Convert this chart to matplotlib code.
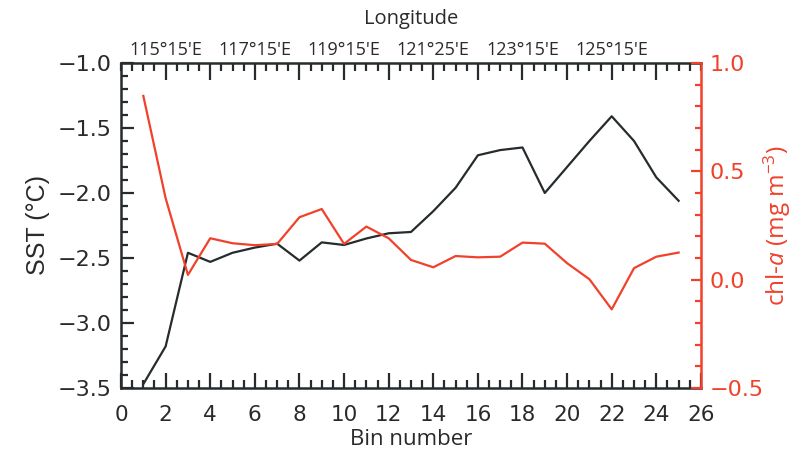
import numpy as np
import matplotlib.pyplot as plt
from matplotlib.ticker import MultipleLocator, FixedLocator, FixedFormatter

# SST and chl-a anomalies per longitude bin
bins = np.arange(1, 26)
sst = [-3.47, -3.18, -2.46, -2.53, -2.46, -2.42, -2.39, -2.52, -2.38, -2.40,
       -2.35, -2.31, -2.30, -2.14, -1.96, -1.71, -1.67, -1.65, -2.00, -1.80,
       -1.60, -1.41, -1.60, -1.88, -2.06]
chla = [0.848, 0.376, 0.022, 0.191, 0.168, 0.159, 0.165, 0.288, 0.326, 0.165,
        0.245, 0.191, 0.091, 0.057, 0.109, 0.103, 0.106, 0.171, 0.166, 0.076,
        0.002, -0.137, 0.053, 0.106, 0.125]

lon_ticks = [2, 4, 6, 8, 10, 12, 14, 16, 18, 20, 22, 24]
lon_labels = ["115°15'E", "", "117°15'E", "", "119°15'E", "", "121°25'E", "",
              "123°15'E", "", "125°15'E", ""]

black = '#262b2e'
red = '#f0412b'
num_font = 'DejaVu Sans'
lab_font = 'Open Sans'

plt.rcParams['mathtext.fontset'] = 'custom'
plt.rcParams['mathtext.rm'] = 'Open Sans'
plt.rcParams['mathtext.it'] = 'Open Sans:italic'

fig = plt.figure(figsize=(7.92, 4.53), dpi=100)
ax = fig.add_axes([0.1528, 0.1435, 0.7322, 0.7175])

ax.plot(bins, sst, color=black, lw=1.6)
ax.set_xlim(0, 26)
ax.set_ylim(-3.5, -1.0)
ax.xaxis.set_major_locator(MultipleLocator(2))
ax.xaxis.set_minor_locator(MultipleLocator(0.5))
ax.yaxis.set_major_locator(MultipleLocator(0.5))
ax.yaxis.set_minor_locator(MultipleLocator(0.1))
ax.tick_params(axis='x', which='major', direction='in', length=11, width=1.6,
               color=black, pad=12, labelsize=15.5, labelcolor='#2a2a2a')
ax.tick_params(axis='x', which='minor', direction='in', length=5.5, width=1.6,
               color=black)
ax.tick_params(axis='y', which='major', direction='in', length=9, width=1.6,
               color=black, pad=7, labelsize=16, labelcolor='#2a2a2a')
ax.tick_params(axis='y', which='minor', direction='in', length=5, width=1.6,
               color=black)
for lab in ax.get_xticklabels() + ax.get_yticklabels():
    lab.set_fontfamily(num_font)
for s in ['left', 'bottom', 'top']:
    ax.spines[s].set_color(black)
    ax.spines[s].set_linewidth(1.8)
ax.spines['right'].set_visible(False)
ax.set_xlabel('Bin number', fontsize=16, family=lab_font, color='#2a2a2a',
              labelpad=3)
ax.set_ylabel('SST (°C)', fontsize=18, family='Liberation Sans',
              color='#2a2a2a', labelpad=5)

# chl-a on the right axis
axr = ax.twinx()
axr.plot(bins, chla, color=red, lw=1.6)
axr.set_ylim(-0.5, 1.0)
axr.yaxis.set_major_locator(MultipleLocator(0.5))
axr.yaxis.set_minor_locator(MultipleLocator(0.1))
axr.tick_params(axis='y', which='major', direction='in', length=7, width=1.6,
                color=red, pad=6, labelsize=16, labelcolor=red)
axr.tick_params(axis='y', which='minor', direction='in', length=4, width=1.6,
                color=red)
for lab in axr.get_yticklabels():
    lab.set_fontfamily(num_font)
for s in ['left', 'bottom', 'top']:
    axr.spines[s].set_visible(False)
axr.spines['right'].set_color(red)
axr.spines['right'].set_linewidth(1.8)
axr.set_ylabel('chl-$\\mathit{a}$ (mg m$^{-3}$)', fontsize=17.5, family=lab_font,
               color=red, labelpad=-1)

# longitude along the top
top = ax.secondary_xaxis('top')
top.xaxis.set_major_locator(FixedLocator(lon_ticks))
top.xaxis.set_major_formatter(FixedFormatter(lon_labels))
top.xaxis.set_minor_locator(MultipleLocator(0.5))
top.tick_params(axis='x', which='major', direction='in', length=12, width=1.6,
                color=black, pad=3, labelsize=13, labelcolor='#2a2a2a')
top.tick_params(axis='x', which='minor', direction='in', length=6, width=1.6,
                color=black)
for lab in top.get_xticklabels():
    lab.set_fontfamily(lab_font)
top.spines['top'].set_visible(False)
top.set_xlabel('Longitude', fontsize=14.5, family=lab_font, color='#2a2a2a',
               labelpad=12)

fig.savefig('out.png', dpi=100)
